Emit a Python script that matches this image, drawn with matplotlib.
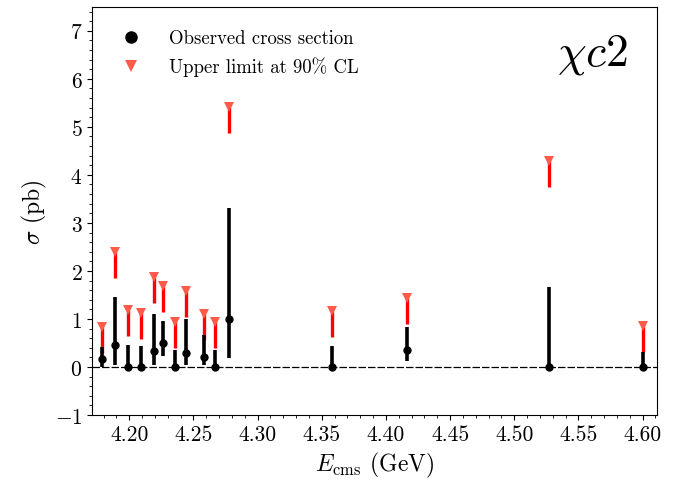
import matplotlib
matplotlib.use("Agg")
import matplotlib.pyplot as plt
from matplotlib.ticker import MultipleLocator, FormatStrFormatter
from matplotlib.lines import Line2D
import numpy as np

plt.rcParams["font.family"] = ["cmr10", "DejaVu Serif"]
plt.rcParams["mathtext.fontset"] = "cm"
plt.rcParams["axes.formatter.use_mathtext"] = True
plt.rcParams["axes.unicode_minus"] = True

# Centre-of-mass energies (GeV)
energy = [4.179, 4.189, 4.199, 4.209, 4.219, 4.226, 4.236, 4.244,
          4.258, 4.267, 4.278, 4.358, 4.416, 4.527, 4.600]
# Observed cross section (pb) with its asymmetric uncertainties
sigma = [0.17, 0.45, 0.00, 0.00, 0.34, 0.50, 0.00, 0.30,
         0.21, 0.00, 1.00, 0.00, 0.36, 0.00, 0.00]
err_low = [0.17, 0.40, 0.00, 0.00, 0.29, 0.27, 0.00, 0.26,
           0.17, 0.00, 0.82, 0.00, 0.24, 0.00, 0.00]
err_high = [0.25, 1.00, 0.46, 0.44, 0.77, 0.45, 0.36, 0.69,
            0.45, 0.36, 2.30, 0.43, 0.47, 1.67, 0.32]
# Upper limits at 90% confidence level (pb)
upper_limit = [0.84, 2.40, 1.19, 1.12, 1.88, 1.69, 0.94, 1.59,
               1.11, 0.94, 5.42, 1.16, 1.43, 4.29, 0.85]
arrow_len = 0.54

fig = plt.figure(figsize=(6.82, 4.81), dpi=100)
ax = fig.add_axes([0.135, 0.135, 0.828, 0.849])

ax.axhline(0, color="black", lw=0.9, ls=(0, (6, 1.6)), zorder=1)

ul = np.array(upper_limit)
ax.vlines(energy, ul - arrow_len, ul, color="red", lw=2.4, zorder=2)
ax.plot(energy, ul, ls="none", marker="v", ms=7, color="#ff5a4a",
        markeredgewidth=0, zorder=3)

ax.errorbar(energy, sigma, yerr=[err_low, err_high], fmt="o", color="black",
            ms=5, elinewidth=2.6, capsize=0, zorder=4)

ax.set_xlim(4.171, 4.611)
ax.set_ylim(-1, 7.5)
ax.xaxis.set_major_locator(MultipleLocator(0.05))
ax.xaxis.set_minor_locator(MultipleLocator(0.01))
ax.yaxis.set_major_locator(MultipleLocator(1))
ax.yaxis.set_minor_locator(MultipleLocator(0.2))
ax.xaxis.set_major_formatter(FormatStrFormatter("%.2f"))
ax.tick_params(labelsize=15.5)

ax.set_xlabel(r"$E_{\rm cms}$ (GeV)", fontsize=17)
ax.set_ylabel(r"$\sigma$ (pb)", fontsize=17)

ax.text(0.887, 0.885, r"$\chi c2$", transform=ax.transAxes, fontsize=33,
        ha="center", va="center")

leg_handles = [Line2D([], [], ls="none", marker="o", color="black", ms=8),
               Line2D([], [], ls="none", marker="v", color="#ff5a4a", ms=8,
                      markeredgewidth=0)]
ax.legend(leg_handles, ["Observed cross section", "Upper limit at 90% CL"],
          loc="upper left", frameon=False, fontsize=13.5, handletextpad=1.1,
          borderaxespad=0.8, handlelength=1.8)

fig.savefig("out.png", dpi=100)
